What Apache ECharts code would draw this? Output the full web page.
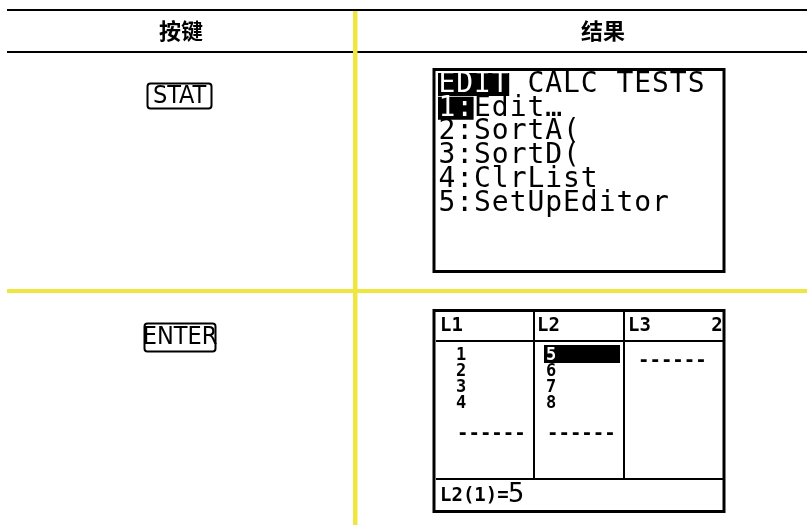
<!DOCTYPE html>
<html><head><meta charset="utf-8">
<script src="https://cdn.jsdelivr.net/npm/echarts@6/dist/echarts.min.js"></script>
<style>html,body{margin:0;padding:0;background:#fff}#c{width:807px;height:525px}</style>
</head><body><div id="c"></div>
<script>
// ---- content ----
const headers = ['按键', '结果'];
const keys = ['STAT', 'ENTER'];
const menuTabs = ['EDIT', 'CALC', 'TESTS'];
const menuItems = ['1:Edit…', '2:SortA(', '3:SortD(', '4:ClrList', '5:SetUpEditor'];
const listNames = ['L1', 'L2', 'L3'];
const L1 = [1, 2, 3, 4];
const L2 = [5, 6, 7, 8];
const L3 = [];
const editLine = 'L2(1)=';
const editValue = '5';
const colNum = '2';

// ---- drawing ----
const BLACK = '#000', YELLOW = '#f0e640';
const els = [];
function rect(x, y, w, h, fill) { els.push({type:'rect', shape:{x, y, width:w, height:h}, style:{fill}, silent:true}); }
function box(x, y, w, h, lw, r) { els.push({type:'rect', shape:{x, y, width:w, height:h, r:r||0}, style:{fill:'none', stroke:BLACK, lineWidth:lw}, silent:true}); }
function text(str, x, y, font, opts) {
  opts = opts || {};
  els.push({type:'text', x, y, silent:true, style:{text:str, font, fill:opts.fill||BLACK, textAlign:opts.align||'left', textVerticalAlign:'middle'}});
}
function mono(str, x0, yc, pitch, font, fill) {
  [...str].forEach((ch, i) => { if (ch !== ' ') text(ch, x0 + i * pitch + pitch / 2, yc, font, {align:'center', fill}); });
}

// table rules
rect(7, 9, 800, 2, BLACK);
rect(7, 51, 800, 2, BLACK);
rect(353, 11, 4.5, 514, YELLOW);
rect(7, 289, 800, 4, YELLOW);
text(headers[0], 181, 31, 'bold 22px "Noto Sans CJK SC"', {align:'center'});
text(headers[1], 603, 31, 'bold 22px "Noto Sans CJK SC"', {align:'center'});

// key caps
const keyFont = '25px "Liberation Sans Narrow", "DejaVu Sans Condensed", sans-serif';
box(147.5, 83.5, 64, 25, 2, 3);
text(keys[0], 179.5, 96.5, keyFont, {align:'center'});
box(144.5, 323.5, 71, 28, 2, 3);
text(keys[1], 180, 337.5, keyFont, {align:'center'});

// screen 1 : STAT menu
box(434, 69.5, 290, 202, 3);
const P = 17.8, X0 = 438, R0 = 84.5, RP = 23.8;
const bigFont = '28px "DejaVu Sans Mono"';
const tabLine = menuTabs.join(' ');
rect(X0, 73, P * menuTabs[0].length, 23, BLACK);
mono(menuTabs[0], X0, R0, P, bigFont, '#fff');
mono(' '.repeat(menuTabs[0].length) + tabLine.slice(menuTabs[0].length), X0, R0, P, bigFont);
menuItems.forEach((s, i) => {
  const yc = R0 + (i + 1) * RP;
  if (i === 0) { rect(X0, yc - 11.5, P * 2, 23, BLACK); mono(s.slice(0, 2), X0, yc, P, bigFont, '#fff'); mono('  ' + s.slice(2), X0, yc, P, bigFont); }
  else mono(s, X0, yc, P, bigFont);
});

// screen 2 : list editor
box(434, 310.5, 290, 201, 3);
rect(533, 312, 2, 166, BLACK);
rect(623, 312, 2, 166, BLACK);
rect(436, 340, 288, 2, BLACK);
rect(436, 478, 288, 2, BLACK);
const smallFont = 'bold 19px "DejaVu Sans Mono"';
const colX = [440, 537, 628];
listNames.forEach((n, i) => text(n, colX[i], 326, smallFont));
text(colNum, 717, 326, smallFont, {align:'center'});
const digFont = 'bold 17px "DejaVu Sans Mono"';
const rowY = [356, 372, 388, 404];
L1.forEach((v, i) => text(String(v), 461, rowY[i], digFont, {align:'center'}));
rect(544, 345, 76, 18, BLACK);
L2.forEach((v, i) => text(String(v), 551, rowY[i], digFont, {align:'center', fill: i === 0 ? '#fff' : BLACK}));
const dashFont = 'bold 19px "DejaVu Sans Mono"';
text('------', 457, 434, dashFont);
text('------', 547, 434, dashFont);
text('------', 638, 361, dashFont);
text(editLine, 440, 496, 'bold 19px "DejaVu Sans Mono"');
text(editValue, 508, 495, '27px "DejaVu Sans Mono"');

const chart = echarts.init(document.getElementById('c'), null, {renderer:'canvas'});
chart.setOption({animation:false, backgroundColor:'#fff', graphic:{elements:els}});
</script></body></html>
